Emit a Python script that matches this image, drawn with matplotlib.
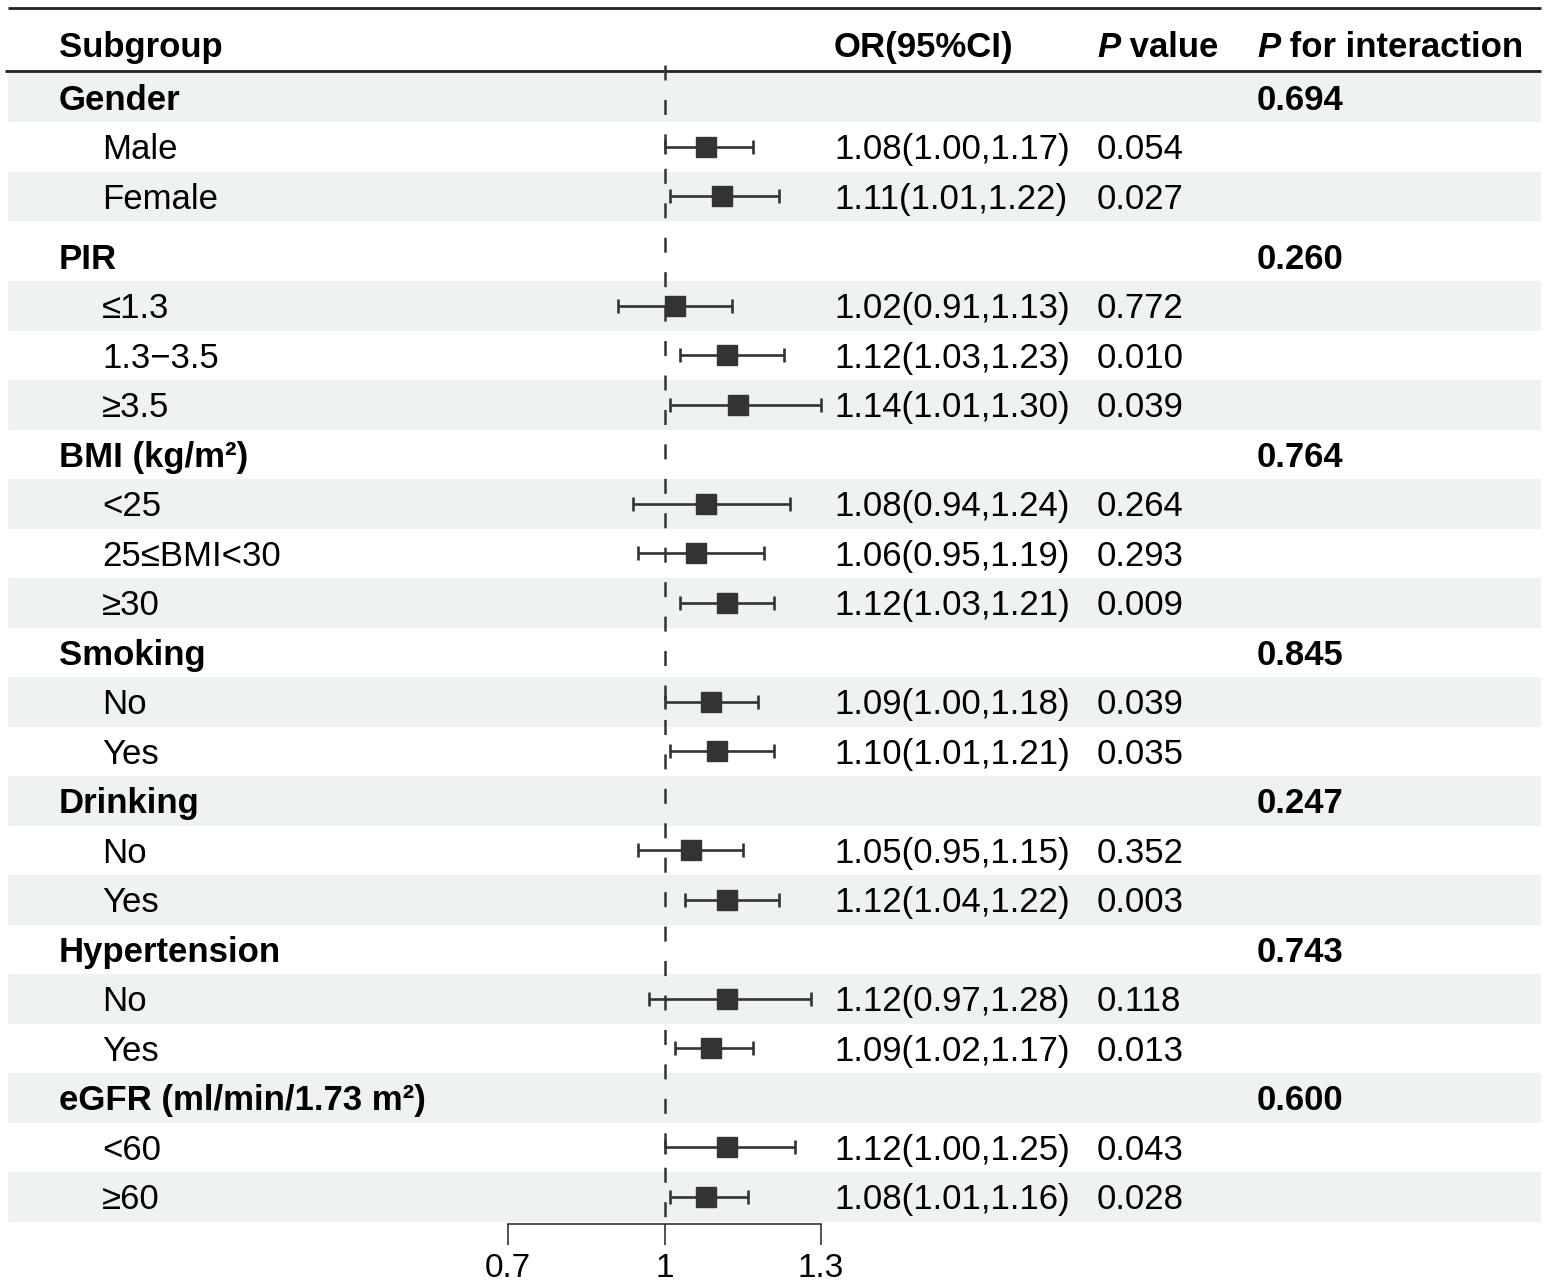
import matplotlib
matplotlib.use("Agg")
import matplotlib.pyplot as plt
from matplotlib.patches import Rectangle

plt.rcParams['font.family'] = ['Liberation Sans', 'DejaVu Sans']
plt.rcParams['lines.scale_dashes'] = False

# ---------------- data ----------------
group_names = ['Gender', 'PIR', 'BMI (kg/m²)', 'Smoking', 'Drinking',
               'Hypertension', 'eGFR (ml/min/1.73 m²)']
group_p_interaction = ['0.694', '0.260', '0.764', '0.845', '0.247', '0.743', '0.600']
group_sizes = [2, 3, 3, 2, 2, 2, 2]

sub_labels = ['Male', 'Female',
              '≤1.3', '1.3−3.5', '≥3.5',
              '<25', '25≤BMI<30', '≥30',
              'No', 'Yes',
              'No', 'Yes',
              'No', 'Yes',
              '<60', '≥60']
or_est = [1.08, 1.11, 1.02, 1.12, 1.14, 1.08, 1.06, 1.12, 1.09, 1.10, 1.05, 1.12, 1.12, 1.09, 1.12, 1.08]
ci_low = [1.00, 1.01, 0.91, 1.03, 1.01, 0.94, 0.95, 1.03, 1.00, 1.01, 0.95, 1.04, 0.97, 1.02, 1.00, 1.01]
ci_high = [1.17, 1.22, 1.13, 1.23, 1.30, 1.24, 1.19, 1.21, 1.18, 1.21, 1.15, 1.22, 1.28, 1.17, 1.25, 1.16]
p_values = ['0.054', '0.027', '0.772', '0.010', '0.039', '0.264', '0.293', '0.009',
            '0.039', '0.035', '0.352', '0.003', '0.118', '0.013', '0.043', '0.028']

x_ticks = [0.7, 1, 1.3]
x_ticklabels = ['0.7', '1', '1.3']

# ---------------- layout ----------------
W, H = 1548, 1285
fig = plt.figure(figsize=(W / 100, H / 100), dpi=100)
ax = fig.add_axes([0, 0, 1, 1])
ax.set_xlim(0, W)
ax.set_ylim(H, 0)
ax.axis('off')

FS = 25
TXT = '#000000'
MARK = '#333333'
BAND = '#eef2f1'

body_top = 72.7
row_h = 49.5
x_group, x_sub, x_or, x_p, x_pi = 59, 102, 834, 1097, 1257

# build rows
rows = []  # (kind, index)
k = 0
for gi, n in enumerate(group_sizes):
    rows.append(('g', gi))
    for _ in range(n):
        rows.append(('s', k))
        k += 1

heights = []
for i, (kind, idx) in enumerate(rows):
    h = row_h
    if kind == 'g' and idx == 1:
        h = row_h + 10.5
    heights.append(h)

tops = []
y = body_top
for h in heights:
    tops.append(y)
    y += h
body_bottom = y

# bands
for i, (t, h) in enumerate(zip(tops, heights)):
    if i % 2 == 0:
        ax.add_patch(Rectangle((8, t), 1533, h, facecolor=BAND, edgecolor='none', zorder=0))

# rules
ax.plot([8, 1541], [7.5, 7.5], color='#222222', lw=2, solid_capstyle='butt')
ax.plot([5, 1541], [70.7, 70.7], color='#222222', lw=2, solid_capstyle='butt')

# header
hb = 57
ax.text(x_group, hb, 'Subgroup', fontsize=FS, fontweight='bold', va='baseline', ha='left', color=TXT)
ax.text(x_or, hb, 'OR(95%CI)', fontsize=FS, fontweight='bold', va='baseline', ha='left', color=TXT)
tp = ax.text(x_p, hb, 'P', fontsize=FS, fontweight='bold', fontstyle='italic', va='baseline', ha='left', color=TXT)
ax.annotate(' value', xy=(1, 0), xycoords=tp, fontsize=FS, fontweight='bold', va='bottom', ha='left', color=TXT)
tpi = ax.text(x_pi, hb, 'P', fontsize=FS, fontweight='bold', fontstyle='italic', va='baseline', ha='left', color=TXT)
ax.annotate(' for interaction', xy=(1, 0), xycoords=tpi, fontsize=FS, fontweight='bold', va='bottom', ha='left', color=TXT)

# rows text
centers = []
for i, (kind, idx) in enumerate(rows):
    base = tops[i] + heights[i] - 12.5
    if kind == 'g':
        ax.text(x_group, base, group_names[idx], fontsize=FS, fontweight='bold', va='baseline', color=TXT)
        ax.text(x_pi, base, group_p_interaction[idx], fontsize=FS, fontweight='bold', va='baseline', color=TXT)
    else:
        ax.text(x_sub, base, sub_labels[idx], fontsize=FS, va='baseline', color=TXT)
        ax.text(x_or, base, f"{or_est[idx]:.2f}({ci_low[idx]:.2f},{ci_high[idx]:.2f})",
                fontsize=FS, va='baseline', color=TXT)
        ax.text(x_p, base, p_values[idx], fontsize=FS, va='baseline', color=TXT)
        centers.append(tops[i] + heights[i] / 2)

# ---------------- forest panel ----------------
x0_px, x1_px = 508, 821
fx = fig.add_axes([x0_px / W, (H - body_bottom) / H, (x1_px - x0_px) / W, (body_bottom - body_top) / H])
fx.set_xlim(0.7, 1.3)
fx.set_ylim(body_bottom, body_top)
fx.patch.set_alpha(0)
for s in ['top', 'left', 'right']:
    fx.spines[s].set_visible(False)
fx.spines['bottom'].set_position(('outward', 1.5))
fx.spines['bottom'].set_linewidth(1.1)
fx.spines['bottom'].set_color('#222222')
fx.set_yticks([])
fx.set_xticks(x_ticks)
fx.set_xticklabels(x_ticklabels)
fx.tick_params(axis='x', direction='out', length=15, width=1.1, color='#222222',
               pad=6, labelsize=24, labelcolor=TXT)

fx.plot([1, 1], [65, body_bottom + 5], color=MARK, lw=1.8,
        linestyle=(0, (10.8, 14)), clip_on=False, zorder=1)

err_lo = [o - l for o, l in zip(or_est, ci_low)]
err_hi = [h - o for o, h in zip(or_est, ci_high)]
fx.errorbar(or_est, centers, xerr=[err_lo, err_hi], fmt='s', ms=15, color=MARK,
            ecolor=MARK, elinewidth=1.9, capsize=4.7, capthick=1.9, clip_on=False, zorder=3)

fig.savefig('out.png', dpi=100)
